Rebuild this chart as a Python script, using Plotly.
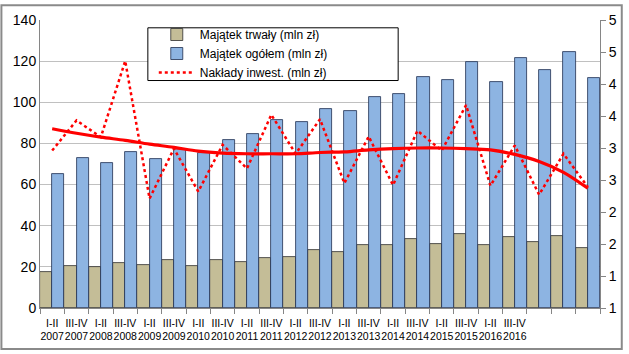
import math
import plotly.graph_objects as go

# ---- data ----
tick_labels = ["I-II<br>2007", "III-IV<br>2007", "I-II<br>2008", "III-IV<br>2008",
               "I-II<br>2009", "III-IV<br>2009", "I-II<br>2010", "III-IV<br>2010",
               "I-II<br>2011", "III-IV<br>2011", "I-II<br>2012", "III-IV<br>2012",
               "I-II<br>2013", "III-IV<br>2013", "I-II<br>2014", "III-IV<br>2014",
               "I-II<br>2015", "III-IV<br>2015", "I-II<br>2016", "III-IV<br>2016"]
n_periods = 23

majatek_trwaly = [17.4, 20.6, 19.9, 22.0, 21.0, 23.4, 20.4, 23.3, 22.5, 24.4, 24.9, 28.0,
                  27.2, 30.7, 30.7, 33.6, 31.0, 35.8, 30.6, 34.5, 32.1, 34.8, 29.1]
majatek_ogolem = [64.9, 73.1, 70.4, 75.8, 72.3, 77.5, 75.2, 81.6, 84.7, 91.3, 90.4, 96.5,
                  95.7, 102.7, 103.9, 112.2, 110.8, 119.8, 109.8, 121.7, 115.5, 124.5, 111.7]
naklady = [2.96, 3.43, 3.17, 4.36, 2.21, 2.99, 2.32, 3.05, 2.68, 3.52, 2.91, 3.45,
           2.45, 3.18, 2.42, 3.27, 2.96, 3.67, 2.41, 3.04, 2.27, 2.91, 2.39]
trend = [3.30, 3.23, 3.17, 3.12, 3.06, 3.01, 2.95, 2.92, 2.91, 2.91, 2.91, 2.93,
         2.94, 2.97, 2.99, 3.00, 3.00, 2.99, 2.97, 2.90, 2.79, 2.62, 2.37]

left_ticks = [0, 20, 40, 60, 80, 100, 120, 140]
right_ticks = [0.5, 1.0, 1.5, 2.0, 2.5, 3.0, 3.5, 4.0, 4.5, 5.0]
right_ticktext = [str(int(math.floor(v + 0.5))) for v in right_ticks]

x = list(range(n_periods))

W, H = 629, 354
ML, MR, MT, MB = 40, 23, 16, 43
FONT = "Liberation Sans"
AX = "#868686"

fig = go.Figure()
fig.add_trace(go.Bar(x=x, y=majatek_trwaly, name="Majątek trwały (mln zł)",
                     marker=dict(color="#C4BD97", line=dict(color="#2F2F2F", width=0.8))))
fig.add_trace(go.Bar(x=x, y=majatek_ogolem, name="Majątek ogółem (mln zł)",
                     marker=dict(color="#8DB4E2", line=dict(color="#1F2F4F", width=0.8))))
fig.add_trace(go.Scatter(x=x, y=naklady, name="Nakłady inwest. (mln zł)", yaxis="y2",
                         mode="lines", line=dict(color="#FF0000", width=2.5, dash="dot")))
fig.add_trace(go.Scatter(x=x, y=trend, yaxis="y2", mode="lines", showlegend=False,
                         line=dict(color="#FF0000", width=3.2, shape="spline")))

pw = W - ML - MR
ph = H - MT - MB


def px_x(p):
    return (p - ML) / pw


def px_y(p):
    return (MT + ph - p) / ph


# outer chart border
fig.add_shape(type="rect", xref="paper", yref="paper",
              x0=px_x(1), x1=px_x(W - 1), y0=px_y(H - 1), y1=px_y(1),
              line=dict(color="#8A8A8A", width=2), fillcolor="rgba(0,0,0,0)", layer="below")
# legend box
fig.add_shape(type="rect", xref="paper", yref="paper",
              x0=px_x(149), x1=px_x(402), y0=px_y(78), y1=px_y(24),
              line=dict(color="#000000", width=1), fillcolor="white", layer="above")

fig.update_layout(
    width=W, height=H, margin=dict(l=ML, r=MR, t=MT, b=MB),
    paper_bgcolor="white", plot_bgcolor="white",
    barmode="group", bargap=0, bargroupgap=0,
    font=dict(family=FONT, color="#000000"),
    showlegend=True,
    legend=dict(x=px_x(155), y=px_y(16), xanchor="left", yanchor="top",
                bgcolor="rgba(0,0,0,0)", borderwidth=0,
                font=dict(family=FONT, size=12), itemwidth=36,
                tracegroupgap=0, traceorder="normal"),
    xaxis=dict(range=[-0.5, n_periods - 0.5], tickvals=x[:len(tick_labels)],
               ticktext=tick_labels, ticks="", showgrid=False, tickangle=0,
               showline=True, linecolor=AX, linewidth=1, ticklabelstandoff=5,
               tickfont=dict(family=FONT, size=10.5),
               minor=dict(tickvals=[i - 0.5 for i in range(n_periods + 1)],
                          ticks="outside", ticklen=5, tickcolor=AX, showgrid=False)),
    yaxis=dict(range=[0, 140], tickvals=left_ticks, showgrid=True, gridcolor="#C0C0C0",
               gridwidth=1, showline=True, linecolor=AX, ticks="", zeroline=False,
               tickfont=dict(family=FONT, size=14)),
    yaxis2=dict(range=[0.5, 5], tickvals=right_ticks, ticktext=right_ticktext,
                overlaying="y", side="right", showgrid=False, showline=True,
                linecolor=AX, ticks="outside", ticklen=5, tickcolor=AX, zeroline=False,
                tickfont=dict(family=FONT, size=14)),
)

fig.write_html("out.html")
